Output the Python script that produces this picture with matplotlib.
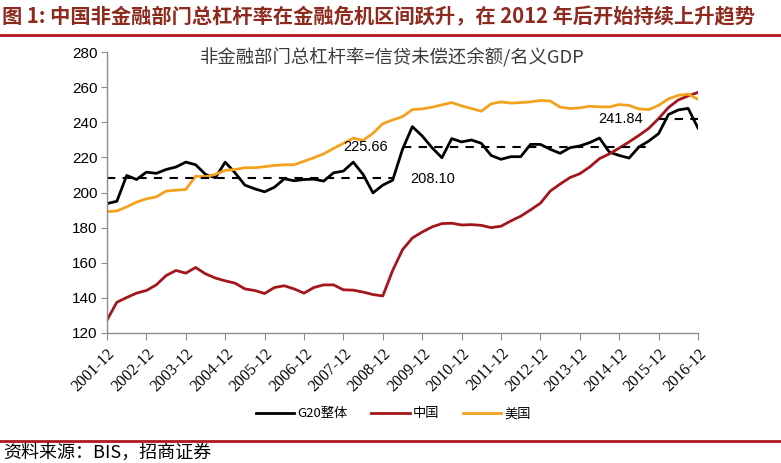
import matplotlib
matplotlib.use('Agg')
import matplotlib.pyplot as plt
import numpy as np
from matplotlib.lines import Line2D

plt.rcParams['font.family'] = ['Noto Sans CJK SC', 'DejaVu Sans']

# ---------------- data ----------------
g20 = [193.7, 195.0, 209.7, 207.4, 211.6, 210.9, 213.1, 214.5, 217.3, 215.8,
       210.3, 208.4, 217.3, 211.2, 204.2, 202.1, 200.4, 203.0, 207.8, 206.7,
       207.4, 207.6, 206.5, 211.2, 212.2, 217.3, 210.3, 199.8, 204.2, 207.0,
       224.6, 237.5, 232.2, 225.5, 219.8, 230.7, 228.8, 229.9, 228.0, 221.1,
       218.9, 220.4, 220.4, 227.4, 227.4, 224.6, 222.3, 225.5, 226.5, 228.4,
       231.0, 223.0, 221.1, 219.6, 225.9, 229.3, 233.5, 244.4, 247.0, 247.9, 236.7]
china = [127.4, 137.5, 140.2, 142.7, 144.2, 147.4, 152.7, 155.6, 154.1, 157.3,
         153.7, 151.3, 149.7, 148.4, 145.1, 144.2, 142.5, 145.9, 146.9, 145.1,
         142.7, 145.9, 147.4, 147.4, 144.6, 144.4, 143.3, 141.9, 141.1, 155.6,
         167.4, 174.1, 177.5, 180.4, 182.3, 182.5, 181.5, 181.7, 181.3, 180.0,
         180.8, 183.8, 186.5, 190.1, 193.9, 200.8, 204.8, 208.5, 210.7, 214.5,
         219.3, 222.0, 225.3, 228.8, 232.5, 236.5, 242.1, 248.4, 252.7, 255.0, 257.0]
usa = [189.1, 189.5, 191.8, 194.5, 196.4, 197.5, 200.8, 201.3, 201.7, 209.3,
       209.0, 210.3, 212.6, 213.1, 214.1, 214.1, 214.7, 215.4, 215.8, 215.8,
       217.8, 219.8, 222.0, 225.1, 228.0, 230.9, 229.7, 233.7, 239.2, 241.3,
       243.2, 247.2, 247.6, 248.6, 249.9, 251.2, 249.3, 247.8, 246.3, 250.5,
       251.6, 250.9, 251.2, 251.6, 252.4, 252.1, 248.6, 247.8, 248.2, 249.1,
       248.8, 248.7, 250.1, 249.6, 247.6, 247.2, 249.6, 253.3, 255.3, 256.0, 253.1]
series_names = ['G20整体', '中国', '美国']
tick_labels = ['%d-12' % y for y in range(2001, 2017)]
avg_values = [208.10, 225.66, 241.84]
avg_start = [0, 30, 56]
avg_end = [29, 55, 60]
avg_labels = ['208.10', '225.66', '241.84']

title = '图 1: 中国非金融部门总杠杆率在金融危机区间跃升，在 2012 年后开始持续上升趋势'
subtitle = '非金融部门总杠杆率=信贷未偿还余额/名义GDP'
source = '资料来源：BIS，招商证券'

# ---------------- figure ----------------
W, H = 781, 463
fig = plt.figure(figsize=(W / 100, H / 100), dpi=100)
ax = fig.add_axes([107 / W, 1 - 333 / H, (698 - 107) / W, (333 - 52) / H])

red = '#A3161B'
orange = '#F4A11D'
x = np.arange(len(g20))
ax.plot(x, g20, color='black', lw=2.0, label=series_names[0])
ax.plot(x, china, color=red, lw=2.0, label=series_names[1])
ax.plot(x, usa, color=orange, lw=2.0, label=series_names[2])

for s, e, v in zip(avg_start, avg_end, avg_values):
    ax.plot([s, e], [v, v], color='black', lw=1.5, ls=(0, (4, 3.5)))

num_font = dict(family=['Liberation Sans', 'DejaVu Sans'], fontsize=10.5, color='black')
ax.text(avg_end[0] + 1.8, avg_values[0] - 0.3, avg_labels[0], ha='left', va='center', **num_font)
ax.text(avg_start[1] - 1.5, avg_values[1], avg_labels[1], ha='right', va='center', **num_font)
ax.text(avg_start[2] - 1.6, avg_values[2], avg_labels[2], ha='right', va='center', **num_font)

ax.set_xlim(0, 60)
ax.set_ylim(120, 280)
ax.set_yticks(range(120, 281, 20))
ax.set_xticks(x[::4])
ax.set_xticklabels(tick_labels, rotation=45, ha='right', va='top', rotation_mode='anchor',
                   family=['Liberation Serif', 'DejaVu Serif'], fontsize=11.5)
for lab in ax.get_yticklabels():
    lab.set_family(['Liberation Sans', 'DejaVu Sans'])
    lab.set_fontsize(11)

for sp in ['top', 'right']:
    ax.spines[sp].set_visible(False)
for sp in ['left', 'bottom']:
    ax.spines[sp].set_color('#8c8c8c')
    ax.spines[sp].set_linewidth(1.0)
ax.tick_params(axis='y', direction='out', length=4, color='#8c8c8c', pad=3)
ax.tick_params(axis='x', direction='out', length=5, color='#8c8c8c', pad=4)

fig.text(392 / W, 1 - 58 / H, subtitle, ha='center', va='center', fontsize=13.2, color='#3a3a3a')

fig.legend(loc='center', bbox_to_anchor=(393.5 / W, 1 - 414 / H), ncol=3, frameon=False,
           fontsize=9.5, handlelength=2.9, handletextpad=0.25, columnspacing=1.8)

# title & source
fig.text(2 / W, 1 - 17 / H, title, ha='left', va='center', fontsize=14.6, fontweight='bold', color='#8E2A1E')
fig.add_artist(Line2D([0, 1], [1 - 35 / H, 1 - 35 / H], color='#B0171F', lw=2.0))
fig.add_artist(Line2D([0, 1], [1 - 441 / H, 1 - 441 / H], color='#B0171F', lw=2.0))
fig.text(3 / W, 1 - 453 / H, source, ha='left', va='center', fontsize=13, color='black')

fig.savefig('out.png', dpi=100)
